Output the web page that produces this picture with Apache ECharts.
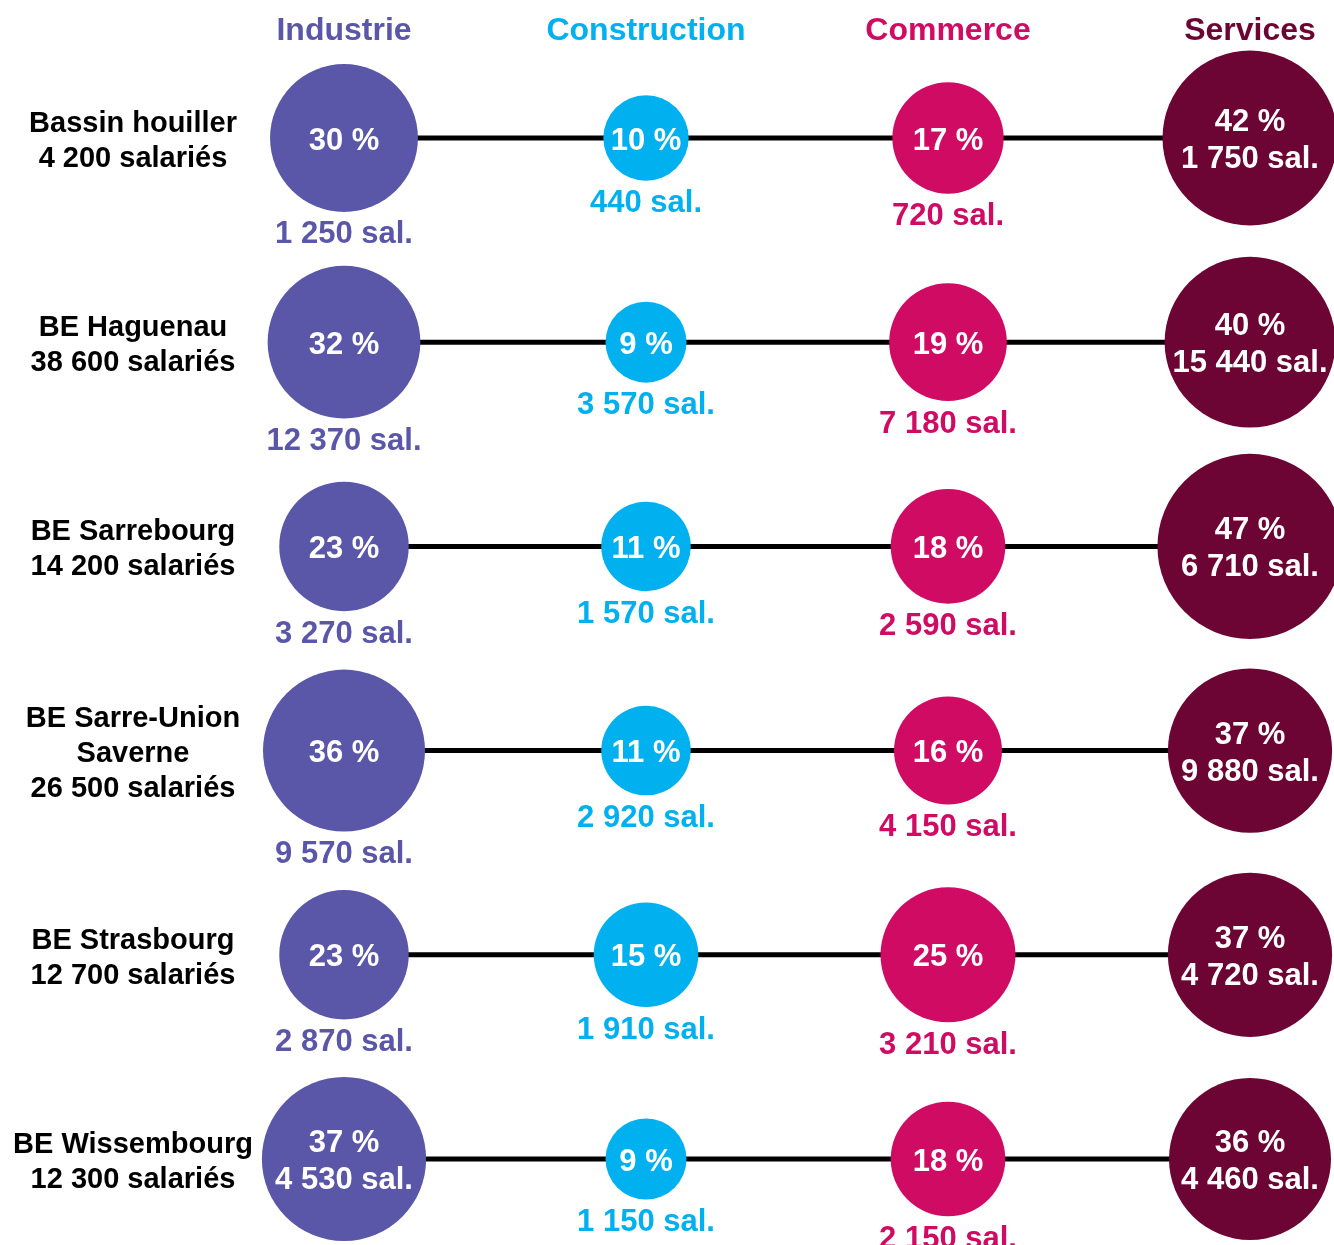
<!DOCTYPE html>
<html>
<head>
<meta charset="utf-8">
<script src="https://cdn.jsdelivr.net/npm/echarts@6/dist/echarts.min.js"></script>
<style>
  html, body { margin: 0; padding: 0; background: #fff; }
  #chart { width: 1334px; height: 1245px; }
</style>
</head>
<body>
<div id="chart"></div>
<script>
// Sector share of employees by employment area (bubble area ~ share).
var SECTORS = ["Industrie", "Construction", "Commerce", "Services"];
var AREAS = [
  "Bassin houiller\n4 200 salariés",
  "BE Haguenau\n38 600 salariés",
  "BE Sarrebourg\n14 200 salariés",
  "BE Sarre-Union\nSaverne\n26 500 salariés",
  "BE Strasbourg\n12 700 salariés",
  "BE Wissembourg\n12 300 salariés"
];

var industriePct = [30, 32, 23, 36, 23, 37];
var industrieSal = ["1 250", "12 370", "3 270", "9 570", "2 870", "4 530"];
var constructionPct = [10, 9, 11, 11, 15, 9];
var constructionSal = ["440", "3 570", "1 570", "2 920", "1 910", "1 150"];
var commercePct = [17, 19, 18, 16, 25, 18];
var commerceSal = ["720", "7 180", "2 590", "4 150", "3 210", "2 150"];
var servicesPct = [42, 40, 47, 37, 37, 36];
var servicesSal = ["1 750", "15 440", "6 710", "9 880", "4 720", "4 460"];

// which bubbles carry the head count inside rather than underneath
var industrieInside = [false, false, false, false, false, true];
var servicesInside = [true, true, true, true, true, true];
var noneInside = [false, false, false, false, false, false];

var COLORS = ["#5a56a8", "#00b0ef", "#cf0b64", "#6c0533"];
var FONT = "'Liberation Sans', Arial, sans-serif";
var K = 27; // diameter per sqrt(percent)

var columns = [
  { pct: industriePct, sal: industrieSal, inside: industrieInside },
  { pct: constructionPct, sal: constructionSal, inside: noneInside },
  { pct: commercePct, sal: commerceSal, inside: noneInside },
  { pct: servicesPct, sal: servicesSal, inside: servicesInside }
];

function sizeOf(v) { return K * Math.sqrt(v[2]); }

var series = [];

// connecting line for each row
AREAS.forEach(function (a, i) {
  series.push({
    type: "line",
    data: [[0, i], [3, i]],
    symbol: "none",
    clip: false,
    silent: true,
    z: 1,
    lineStyle: { color: "#000", width: 5 }
  });
});

columns.forEach(function (col, c) {
  var pts = col.pct.map(function (p, r) {
    return [c, r, p, col.sal[r], col.inside[r]];
  });
  // bubbles with percentage (and head count when it sits inside)
  series.push({
    type: "scatter",
    data: pts,
    symbolSize: sizeOf,
    clip: false,
    silent: true,
    z: 3,
    itemStyle: { color: COLORS[c], opacity: 1 },
    label: {
      show: true,
      position: "inside",
      offset: [0, 3],
      color: "#fff",
      fontFamily: FONT,
      fontWeight: "bold",
      fontSize: 31,
      lineHeight: 37,
      formatter: function (p) {
        var d = p.data;
        return d[4] ? d[2] + " %\n" + d[3] + " sal." : d[2] + " %";
      }
    }
  });
  // head count under the bubble
  series.push({
    type: "scatter",
    data: pts.filter(function (d) { return !d[4]; }),
    symbolSize: sizeOf,
    clip: false,
    silent: true,
    z: 2,
    itemStyle: { color: "transparent", opacity: 1 },
    label: {
      show: true,
      position: "bottom",
      distance: 8,
      color: COLORS[c],
      fontFamily: FONT,
      fontWeight: "bold",
      fontSize: 31,
      lineHeight: 30,
      formatter: function (p) { return p.data[3] + " sal."; }
    }
  });
});

var headerRich = {};
SECTORS.forEach(function (s, i) {
  headerRich["c" + i] = { color: COLORS[i], fontFamily: FONT, fontWeight: "bold", fontSize: 32 };
});

var chart = echarts.init(document.getElementById("chart"), null, { renderer: "canvas" });
chart.setOption({
  animation: false,
  backgroundColor: "#fff",
  grid: { left: 344, right: 84, top: 138, bottom: 86 },
  xAxis: {
    type: "value",
    position: "top",
    min: 0, max: 3, interval: 1,
    axisLine: { show: false },
    axisTick: { show: false },
    splitLine: { show: false },
    axisLabel: {
      margin: 107,
      verticalAlign: "middle",
      rich: headerRich,
      formatter: function (v) { return "{c" + v + "|" + SECTORS[v] + "}"; }
    }
  },
  yAxis: {
    type: "value",
    inverse: true,
    min: 0, max: 5, interval: 1,
    axisLine: { show: false },
    axisTick: { show: false },
    splitLine: { show: false },
    axisLabel: {
      margin: 211,
      align: "center",
      verticalAlign: "middle",
      color: "#000",
      fontFamily: FONT,
      fontWeight: "bold",
      fontSize: 29,
      lineHeight: 35,
      rich: {
        p: { fontSize: 1, lineHeight: 7, height: 7 },
        t: { color: "#000", fontFamily: FONT, fontWeight: "bold", fontSize: 29, lineHeight: 35 }
      },
      formatter: function (v) {
        return "{p| }\n" + AREAS[v].split("\n").map(function (s) {
          return "{t|" + s + "}";
        }).join("\n");
      }
    }
  },
  series: series
});
</script>
</body>
</html>
